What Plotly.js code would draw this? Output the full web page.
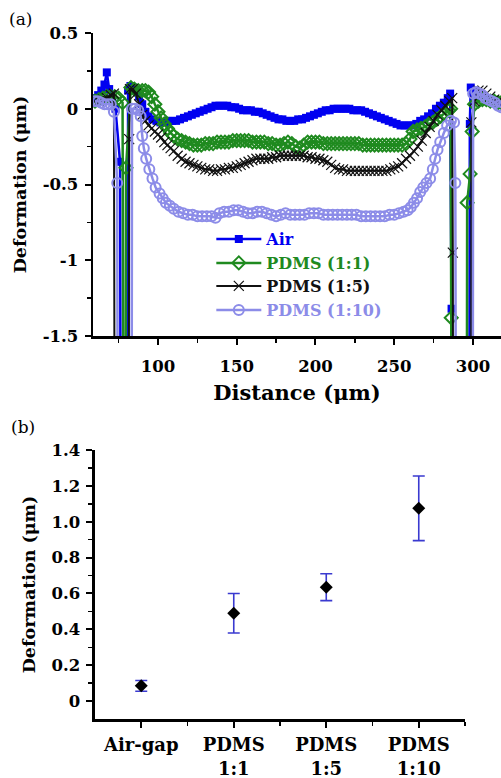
<!DOCTYPE html>
<html>
<head>
<meta charset="utf-8">
<script src="https://cdn.plot.ly/plotly-3.0.1.min.js"></script>
<style>html,body{margin:0;padding:0;background:#fff}#chart{width:501px;height:778px}</style>
</head>
<body>
<div id="chart"></div>
<script>
// ---- Panel (a): deformation profiles ----
const airX = [60,62,64,66,67.5,69,71,73,75.9,76.4,80.6,81,82.5,84,86,88,90,92,94,96.5,99,101.5,104,106.5,109,111.5,114,116.5,119,121.5,124,126.5,129,131.5,134,136.5,139,141.5,144,146.5,149,151.5,154,156.5,159,161.5,164,166.5,169,171.5,174,176.5,179,181.5,184,186.5,189,191.5,194,196.5,199,201.5,204,206.5,209,211.5,214,216.5,219,221.5,224,226.5,229,231.5,234,236.5,239,241.5,244,246.5,249,251.5,254,256.5,259,261.5,264,266.5,269,271.5,274,276.5,279,281.5,284,285.5,286.4,286.8,297.6,298,298.6,300.5,303,305.5,308,310.5,313,315.5,318];
const airY = [0.07,0.09,0.12,0.16,0.24,0.13,0.07,0.0,-0.35,-3,-3,0.12,0.15,0.14,0.12,0.08,0.03,-0.02,-0.05,-0.07,-0.08,-0.09,-0.09,-0.08,-0.08,-0.08,-0.07,-0.06,-0.05,-0.04,-0.03,-0.02,-0.01,0.0,0.01,0.02,0.02,0.02,0.02,0.01,0.01,0.0,-0.01,-0.01,-0.01,-0.02,-0.02,-0.03,-0.04,-0.05,-0.06,-0.07,-0.07,-0.08,-0.08,-0.08,-0.07,-0.07,-0.06,-0.05,-0.04,-0.03,-0.02,-0.01,-0.01,0.0,0.0,0.0,0.0,0.0,-0.01,-0.01,-0.01,-0.02,-0.03,-0.04,-0.05,-0.06,-0.07,-0.08,-0.09,-0.1,-0.11,-0.11,-0.11,-0.11,-0.1,-0.08,-0.07,-0.05,-0.03,0.0,0.02,0.04,0.07,0.1,-1.32,-3,-3,-0.1,0.14,0.12,0.1,0.08,0.07,0.06,0.05,0.05,0.04];

const p11X = [60,62.5,65,67.5,70,72.5,75,77.5,78.3,79.5,79.7,82.8,85,87.5,90,92,94,96,98,100,102,104,106,108,110,112.5,115,117.5,120,122.5,125,127.5,130,132.5,135,137.5,140,142.5,145,147.5,150,152.5,155,157.5,160,162.5,165,167.5,170,172.5,175,177.5,180,182.5,185,187.5,190,192.5,195,197.5,200,202.5,205,207.5,210,212.5,215,217.5,220,222.5,225,227.5,230,232.5,235,237.5,240,242.5,245,247.5,250,252.5,255,257.5,260,262,264.5,267,269.5,272,274.5,277,279.5,282,284.5,285.8,286.2,286.6,296,296.3,298.2,299.5,301,303.5,306,308.5,311,313.5,316,318];
const p11Y = [0.05,0.06,0.07,0.08,0.08,0.08,0.07,0.04,-3,-3,-0.39,0.14,0.13,0.12,0.12,0.12,0.11,0.08,0.03,-0.02,-0.06,-0.1,-0.13,-0.16,-0.18,-0.2,-0.21,-0.22,-0.23,-0.24,-0.24,-0.24,-0.23,-0.23,-0.23,-0.22,-0.22,-0.22,-0.22,-0.21,-0.21,-0.21,-0.21,-0.21,-0.22,-0.22,-0.22,-0.22,-0.23,-0.23,-0.24,-0.24,-0.23,-0.22,-0.23,-0.25,-0.26,-0.24,-0.22,-0.22,-0.22,-0.22,-0.23,-0.23,-0.23,-0.23,-0.23,-0.23,-0.23,-0.23,-0.23,-0.23,-0.24,-0.24,-0.24,-0.24,-0.24,-0.24,-0.24,-0.24,-0.24,-0.24,-0.24,-0.23,-0.2,-0.15,-0.14,-0.13,-0.12,-0.1,-0.09,-0.07,-0.05,-0.03,-0.01,0.0,-1.38,-3,-3,-0.62,-0.43,-0.15,0.03,0.05,0.06,0.06,0.05,0.05,0.04,0.04];

const p15X = [60,62.5,65,67.5,70,72,72.6,81.4,81.7,82.2,84,86,88,90,92,94,96,98,100,102,104,106,108,110,112.5,115,117.5,120,122.5,125,127.5,130,132.5,135,137.5,140,142.5,145,147.5,150,152.5,155,157.5,160,162.5,165,167.5,170,172.5,175,177.5,180,182.5,185,187.5,190,192.5,195,197.5,200,202.5,205,207.5,210,212.5,215,217.5,220,222.5,225,227.5,230,232.5,235,237.5,240,242.5,245,247.5,250,252.5,255,257.5,260,262.5,265,267.5,270,272.5,275,277.5,280,282.5,285,286.8,287.2,287.5,298.8,299,301,303.5,306,308.5,311,313.5,316,318];
const p15Y = [0.05,0.05,0.06,0.07,0.09,0.1,-3,-3,-0.2,0.13,0.13,0.1,0.03,-0.04,-0.08,-0.11,-0.13,-0.15,-0.17,-0.19,-0.22,-0.24,-0.26,-0.28,-0.31,-0.33,-0.35,-0.36,-0.37,-0.38,-0.39,-0.4,-0.4,-0.41,-0.41,-0.4,-0.4,-0.39,-0.39,-0.38,-0.37,-0.36,-0.35,-0.34,-0.33,-0.33,-0.33,-0.33,-0.32,-0.32,-0.31,-0.31,-0.31,-0.31,-0.31,-0.31,-0.31,-0.32,-0.32,-0.33,-0.33,-0.34,-0.35,-0.37,-0.39,-0.4,-0.4,-0.41,-0.41,-0.41,-0.41,-0.41,-0.41,-0.41,-0.41,-0.41,-0.41,-0.41,-0.4,-0.39,-0.38,-0.36,-0.33,-0.31,-0.28,-0.25,-0.21,-0.16,-0.12,-0.08,-0.04,-0.01,0.02,0.05,0.07,-0.95,-3,-3,-0.09,0.05,0.12,0.12,0.1,0.08,0.06,0.05,0.04];

const p110X = [60,62,64,66,68,70,72,74.1,74.6,83.2,83.5,85.5,87.5,89,90,91,92.5,94.5,96.5,98.5,101,103,105,107.5,110,113,116,119,122,125,128,131,134,136.5,139,142,145,148,151,154,157,160,163,166,169,172,175,178,181,184,187,190,193,196,199,202,205,208,211,214,217,220,223,226,229,232,235,238,241,244,247,250,253,256,258.5,260.5,262.5,264.5,266.5,268.4,270.5,272.8,274.5,276,277.5,279.2,281.5,283.6,286,288,288.8,289.3,299.8,300.1,302,304,306,308,310,312,314,316,318];
const p110Y = [0.05,0.05,0.04,0.03,0.03,0.03,-0.02,-0.49,-3,-3,0.0,0.0,-0.01,-0.05,-0.18,-0.26,-0.33,-0.4,-0.46,-0.52,-0.56,-0.59,-0.62,-0.64,-0.66,-0.68,-0.69,-0.7,-0.7,-0.71,-0.71,-0.71,-0.71,-0.72,-0.69,-0.68,-0.68,-0.67,-0.67,-0.68,-0.69,-0.69,-0.68,-0.68,-0.69,-0.7,-0.71,-0.7,-0.69,-0.7,-0.7,-0.7,-0.7,-0.69,-0.69,-0.69,-0.7,-0.7,-0.7,-0.7,-0.7,-0.7,-0.7,-0.7,-0.71,-0.71,-0.71,-0.71,-0.71,-0.71,-0.7,-0.7,-0.69,-0.68,-0.67,-0.65,-0.62,-0.59,-0.55,-0.52,-0.49,-0.46,-0.4,-0.33,-0.27,-0.22,-0.16,-0.11,-0.08,-0.09,-0.49,-3,-3,0.1,0.11,0.1,0.09,0.07,0.06,0.05,0.04,0.02,0.01];

const seriesNames = ['Air', 'PDMS (1:1)', 'PDMS (1:5)', 'PDMS (1:10)'];

// ---- Panel (b): mean deformation with error bars ----
const catLabels = ['Air-gap', 'PDMS<br>1:1', 'PDMS<br>1:5', 'PDMS<br>1:10'];
const catPos = [1, 2, 3, 4];
const meanDef = [0.085, 0.49, 0.635, 1.075];
const errDef = [0.03, 0.11, 0.075, 0.18];

const aTickVals = [-1.5, -1, -0.5, 0, 0.5];
const aTickText = ['-1.5', '-1', '-0.5', '0', '0.5'];
const bTickVals = [0, 0.2, 0.4, 0.6, 0.8, 1.0, 1.2, 1.4];
const bTickText = ['0', '0.2', '0.4', '0.6', '0.8', '1.0', '1.2', '1.4'];

const SERIF = 'DejaVu Serif, serif';
const cAir = '#0000f0', c11 = '#1f8a1f', c15 = '#111111', c110 = '#8c8ce8';

function nm(t, c) { return '<span style="color:' + c + '">' + t + '</span>'; }

const traces = [
  {x: airX, y: airY, xaxis: 'x', yaxis: 'y', type: 'scatter', mode: 'lines+markers', name: nm(seriesNames[0], cAir), legend: 'legend',
   line: {color: cAir, width: 2.5}, marker: {symbol: 'square', size: 8, color: cAir}},
  {x: p11X, y: p11Y, xaxis: 'x', yaxis: 'y', type: 'scatter', mode: 'lines+markers', name: nm(seriesNames[1], c11), legend: 'legend2',
   line: {color: c11, width: 2.5}, marker: {symbol: 'diamond-open', size: 10, color: c11, line: {width: 2, color: c11}}},
  {x: p15X, y: p15Y, xaxis: 'x', yaxis: 'y', type: 'scatter', mode: 'lines+markers', name: nm(seriesNames[2], c15), legend: 'legend3',
   line: {color: c15, width: 2}, marker: {symbol: 'x-thin-open', size: 10, color: c15, line: {width: 1.2, color: c15}}},
  {x: p110X, y: p110Y, xaxis: 'x', yaxis: 'y', type: 'scatter', mode: 'lines+markers', name: nm(seriesNames[3], c110), legend: 'legend4',
   line: {color: c110, width: 2.5}, marker: {symbol: 'circle-open', size: 10, color: c110, line: {width: 2, color: c110}}},
  {x: catPos, y: meanDef, xaxis: 'x2', yaxis: 'y2', type: 'scatter', mode: 'markers', showlegend: false,
   marker: {symbol: 'diamond', size: 10, color: '#000'},
   error_y: {type: 'data', array: errDef, visible: true, color: '#3a3ad0', thickness: 1.6, width: 6}}
];

const axFont = {family: SERIF, size: 16.5, color: '#000', weight: 'bold'};
const catFont = {family: SERIF, size: 18, color: '#000', weight: 'bold'};
const xTitleFont = {family: SERIF, size: 21, color: '#000', weight: 'bold'};
const yTitleFont = {family: SERIF, size: 17.5, color: '#000', weight: 'bold'};

function leg(yPix) {
  return {x: 0.29, y: (719 - yPix) / 686, xanchor: 'left', yanchor: 'middle', bgcolor: 'rgba(0,0,0,0)',
          font: {family: SERIF, size: 16, color: '#000', weight: 'bold'}, itemwidth: 45};
}

const layout = {
  width: 501, height: 778,
  margin: {l: 93, r: 0, t: 33, b: 59},
  paper_bgcolor: '#fff', plot_bgcolor: '#fff',
  showlegend: true,
  legend: leg(239), legend2: leg(263), legend3: leg(286), legend4: leg(310),
  xaxis: {domain: [0, 1], range: [58.73, 317.8], anchor: 'y', showgrid: false, zeroline: false,
          showline: true, linecolor: '#000', linewidth: 2.5, ticks: 'outside', ticklen: 6, tickwidth: 2, tickcolor: '#000',
          tick0: 0, dtick: 50, tickfont: axFont, ticklabelstandoff: 8,
          minor: {tick0: 0, dtick: 25, ticks: 'outside', ticklen: 4, tickwidth: 1.5, tickcolor: '#000'},
          title: {text: 'Distance (μm)', font: xTitleFont, standoff: 10}},
  yaxis: {domain: [0.5583, 1], range: [-1.5, 0.5], anchor: 'x', showgrid: false, zeroline: false,
          showline: true, linecolor: '#000', linewidth: 2.5, ticks: 'outside', ticklen: 6, tickwidth: 2, tickcolor: '#000',
          tickmode: 'array', tickvals: aTickVals, ticktext: aTickText, tickfont: axFont, ticklabelstandoff: 3,
          minor: {tickvals: [-1.25, -0.75, -0.25, 0.25], ticks: 'outside', ticklen: 4, tickwidth: 1.5, tickcolor: '#000'},
          title: {text: 'Deformation (μm)', font: yTitleFont, standoff: 12}},
  xaxis2: {domain: [0.0049, 0.9118], range: [0.5, 4.5], anchor: 'y2', showgrid: false, zeroline: false,
          showline: true, linecolor: '#000', linewidth: 2.5, ticks: 'outside', ticklen: 6, tickwidth: 2, tickcolor: '#000',
          tickmode: 'array', tickvals: catPos, ticktext: catLabels, tickfont: catFont, ticklabelstandoff: 2,
          minor: {tickvals: [1.5, 2.5, 3.5, 4.5], ticks: 'outside', ticklen: 4, tickwidth: 1.5, tickcolor: '#000'}},
  yaxis2: {domain: [0, 0.3921], range: [-0.1, 1.4], anchor: 'x2', showgrid: false, zeroline: false,
          showline: true, linecolor: '#000', linewidth: 2.5, ticks: 'outside', ticklen: 6, tickwidth: 2, tickcolor: '#000',
          tickmode: 'array', tickvals: bTickVals, ticktext: bTickText, tickfont: axFont, ticklabelstandoff: 3,
          minor: {tickvals: [0.1, 0.3, 0.5, 0.7, 0.9, 1.1, 1.3], ticks: 'outside', ticklen: 4, tickwidth: 1.5, tickcolor: '#000'},
          title: {text: 'Deformation (μm)', font: yTitleFont, standoff: 12}},
  annotations: [
    {text: '(a)', xref: 'paper', yref: 'paper', x: -0.21, y: 1.0204, xanchor: 'left', yanchor: 'middle', showarrow: false,
     font: {family: SERIF, size: 17, color: '#000'}},
    {text: '(b)', xref: 'paper', yref: 'paper', x: -0.205, y: 0.426, xanchor: 'left', yanchor: 'middle', showarrow: false,
     font: {family: SERIF, size: 17, color: '#000'}}
  ]
};

Plotly.newPlot('chart', traces, layout, {staticPlot: true, displayModeBar: false});
</script>
</body>
</html>
